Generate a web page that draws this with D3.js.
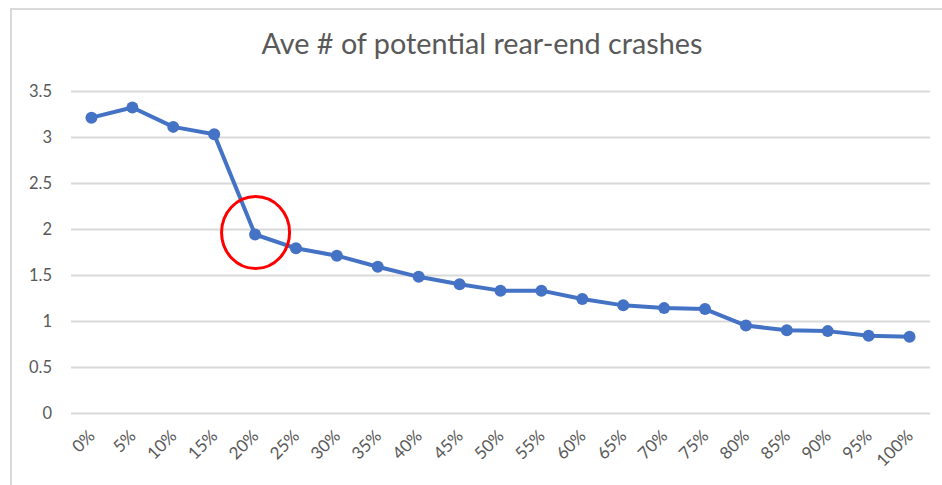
<!DOCTYPE html>
<html><head><meta charset="utf-8">
<script src="https://cdn.jsdelivr.net/npm/d3@7/dist/d3.min.js"></script>
<style>body{margin:0;background:#fff}svg{display:block}</style>
</head><body>
<svg id="c" width="942" height="485"></svg>
<script>
const title = "Ave # of potential rear-end crashes";
const categories = ["0%","5%","10%","15%","20%","25%","30%","35%","40%","45%","50%","55%","60%","65%","70%","75%","80%","85%","90%","95%","100%"];
const values = [3.21,3.32,3.11,3.03,1.94,1.79,1.71,1.59,1.48,1.40,1.33,1.33,1.24,1.17,1.14,1.13,0.95,0.90,0.89,0.84,0.83];
const yTicks = [0,0.5,1,1.5,2,2.5,3,3.5];
const highlight = "20%";

const svg = d3.select("#c");
const W = 942, H = 485;
const m = {left:71, right:12, top:91, bottom:72};

// chart border
svg.append("path").attr("d", `M11,${H+2} L11,9 L${W+2},9`)
  .attr("fill","none").attr("stroke","#d9d9d9").attr("stroke-width",2);

const x = d3.scalePoint().domain(categories).range([m.left, W - m.right]).padding(0.5);
const y = d3.scaleLinear().domain([0,3.5]).range([H - m.bottom, m.top]);

// gridlines
const grid = svg.append("g").attr("transform",`translate(${m.left},0)`)
  .call(d3.axisLeft(y).tickValues(yTicks).tickSize(-(W - m.right - m.left)).tickFormat(""));
grid.select(".domain").remove();
grid.selectAll(".tick line").attr("stroke","#d9d9d9").attr("stroke-width",2);

// y axis labels
const ya = svg.append("g").attr("transform",`translate(52,0)`)
  .call(d3.axisLeft(y).tickValues(yTicks).tickSize(0).tickPadding(0).tickFormat(d => d3.format("")(d)));
ya.select(".domain").remove();
ya.selectAll("text").attr("font-family","Lato, sans-serif").attr("font-size","16.5px").attr("fill","#595959");

// x axis labels
const xa = svg.append("g").attr("transform",`translate(0,${H - m.bottom})`)
  .call(d3.axisBottom(x).tickSize(0).tickPadding(0));
xa.select(".domain").remove();
xa.selectAll("text")
  .attr("font-family","Lato, sans-serif").attr("font-size","17px").attr("fill","#595959")
  .attr("text-anchor","end").attr("dy",null).attr("y",0)
  .attr("transform","translate(4,24) rotate(-45)");

// line
svg.append("path").datum(values)
  .attr("fill","none").attr("stroke","#4472C4").attr("stroke-width",4).attr("stroke-linejoin","round")
  .attr("d", d3.line().x((d,i)=>x(categories[i])).y(d=>y(d)));

svg.append("g").selectAll("circle").data(values).join("circle")
  .attr("cx",(d,i)=>x(categories[i])).attr("cy",d=>y(d)).attr("r",6).attr("fill","#4472C4");

// highlight ellipse
const hi = categories.indexOf(highlight);
svg.append("ellipse").attr("cx", x(highlight)+0.5).attr("cy", y(values[hi]) - 2)
  .attr("rx",34).attr("ry",36).attr("fill","none").attr("stroke","#ff0000").attr("stroke-width",3);

// title
const t = svg.append("text").attr("x", 482).attr("y", 54).attr("text-anchor","middle")
  .attr("font-family","Lato, sans-serif").attr("font-size","22px").attr("fill","#595959").text(title);
const len = t.node().getComputedTextLength();
if (len > 0) t.attr("font-size", (22 * 441 / len).toFixed(2) + "px");
</script>
</body></html>
